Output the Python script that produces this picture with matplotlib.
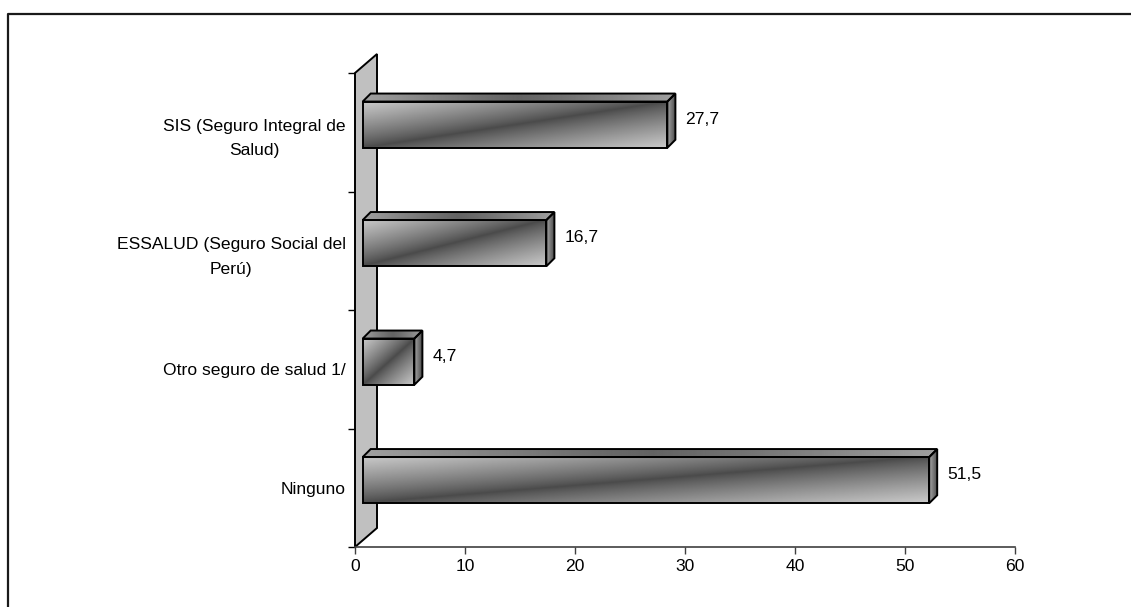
import numpy as np
import matplotlib
matplotlib.use('Agg')
import matplotlib.pyplot as plt
from matplotlib.patches import Polygon
from matplotlib.lines import Line2D

categories = ['Ninguno', 'Otro seguro de salud 1/',
              'ESSALUD (Seguro Social del\nPerú)',
              'SIS (Seguro Integral de\nSalud)']
values = [51.5, 4.7, 16.7, 27.7]
value_labels = ['51,5', '4,7', '16,7', '27,7']
xticks = [0, 10, 20, 30, 40, 50, 60]

plt.rcParams['font.family'] = ['Liberation Sans', 'DejaVu Sans']
plt.rcParams['font.size'] = 12.6

W, H = 1131, 607
fig = plt.figure(figsize=(W / 100, H / 100), dpi=100)
ax = fig.add_axes([355 / W, 60 / H, 660 / W, 474 / H])

# pixel -> data unit helpers (11 px per x unit, 118.5 px per category)
px_x = 60 / 660
px_y = 4 / 474


def shaded(verts, func, z):
    xs = [p[0] for p in verts]
    ys = [p[1] for p in verts]
    u, v = np.meshgrid(np.linspace(0, 1, 300), np.linspace(0, 1, 60))
    img = ax.imshow(func(u, v), extent=[min(xs), max(xs), min(ys), max(ys)],
                    origin='lower', aspect='auto', cmap='gray', vmin=0, vmax=255,
                    interpolation='bilinear', zorder=z)
    poly = Polygon(verts, closed=True, facecolor='none', edgecolor='black',
                   lw=1.4, zorder=z + 0.5, joinstyle='miter')
    ax.add_patch(poly)
    img.set_clip_path(poly)


def front(u, v):
    d = np.abs(v - u)
    return 74 + 128 * d ** 0.85


def top(u, v):
    return 100 + 60 * np.abs(2 * u - 1) ** 1.2


def side(u, v):
    return 170 - 90 * u


# back wall
wdx, wdy = 22 * px_x, 19 * px_y
wall = Polygon([(0, 0), (wdx, wdy), (wdx, 4 + wdy), (0, 4)], closed=True,
               facecolor='#c0c0c0', edgecolor='black', lw=1.4, clip_on=False, zorder=1)
ax.add_patch(wall)

off_x, off_y = 7.7 * px_x, 7.6 * px_y
ddx, ddy = 8 * px_x, 8 * px_y
bh = 0.39

for i, (val, lab) in enumerate(zip(values, value_labels)):
    x0 = off_x
    x1 = val + off_x
    yc = i + 0.5 + off_y
    y0, y1 = yc - bh / 2, yc + bh / 2
    z = 3 + i
    shaded([(x0, y1), (x1, y1), (x1 + ddx, y1 + ddy), (x0 + ddx, y1 + ddy)], top, z)
    shaded([(x1, y0), (x1 + ddx, y0 + ddy), (x1 + ddx, y1 + ddy), (x1, y1)], side, z)
    shaded([(x0, y0), (x1, y0), (x1, y1), (x0, y1)], front, z)
    ax.text(val + 2.34, i + 0.5 + 13 * px_y, lab, ha='left', va='center', zorder=10)

ax.set_xlim(0, 60)
ax.set_ylim(0, 4)
ax.set_xticks(xticks)
ax.set_xticklabels([str(t) for t in xticks])
ax.set_yticks([0, 1, 2, 3, 4])
ax.set_yticklabels([])
ax.set_yticks([0.5, 1.5, 2.5, 3.5], minor=True)
ax.set_yticklabels(categories, minor=True)
for t in ax.get_yticklabels(minor=True):
    t.set_multialignment('center')
    t.set_linespacing(1.8)

ax.tick_params(axis='y', which='major', length=4.8, width=1, color='black', direction='out')
ax.tick_params(axis='y', which='minor', length=0, pad=6.5)
ax.tick_params(axis='x', length=4.8, width=1, color='#404040', direction='out', pad=4)

for s in ['top', 'right', 'left']:
    ax.spines[s].set_visible(False)
ax.spines['bottom'].set_color('#404040')
ax.spines['bottom'].set_linewidth(1.2)
ax.patch.set_visible(False)

# outer frame (runs off the right and bottom edges)
fig.add_artist(Line2D([8 / W, 8 / W, 1.0], [0.0, 1 - 14 / H, 1 - 14 / H],
                      transform=fig.transFigure, color='#1a1a1a', lw=1.6))

fig.savefig('out.png', dpi=100)
